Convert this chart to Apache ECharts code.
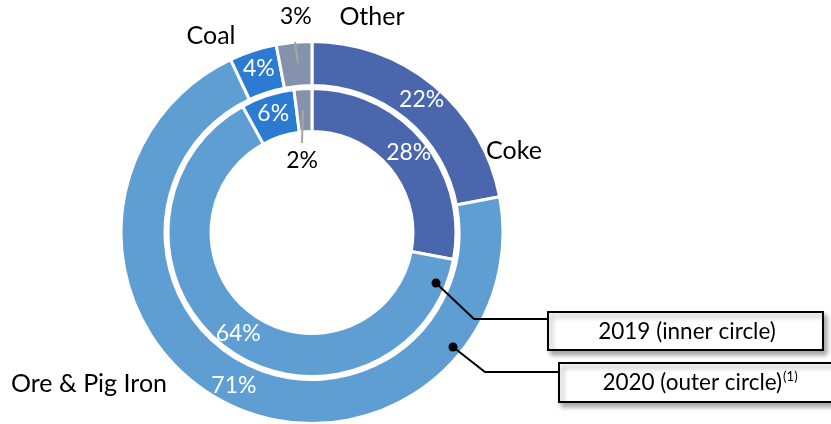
<!DOCTYPE html>
<html>
<head>
<meta charset="utf-8">
<script src="https://cdn.jsdelivr.net/npm/echarts@6/dist/echarts.min.js"></script>
<style>
  html, body { margin: 0; padding: 0; background: #fff; }
  #chart { width: 831px; height: 424px; }
</style>
</head>
<body>
<div id="chart"></div>
<script>
// Raw-material cost mix, 2019 (inner ring) vs 2020 (outer ring)
const categories = ['Coke', 'Ore & Pig Iron', 'Coal', 'Other'];
const share2019 = [28, 64, 6, 2];
const share2020 = [22, 71, 4, 3];
const colors = ['#4A66AC', '#5F9ED2', '#2B7BD3', '#8592AB'];
const ringNames = ['2019 (inner circle)', '2020 (outer circle)'];

const FONT = 'Lato';
const CX = 312, CY = 232.5;

function ringData(values, smallOffset) {
  return values.map((v, i) => {
    const item = { name: categories[i], value: v, itemStyle: { color: colors[i] } };
    if (i === 3) {
      item.label = { color: '#000', offset: smallOffset };
    }
    return item;
  });
}

const labelBase = {
  show: true,
  position: 'inside',
  formatter: '{c}%',
  color: '#fff',
  fontFamily: FONT,
  fontSize: 23
};

const catFont = '25px ' + FONT;
const catText = (i, x, y) => ({
  type: 'text', z: 10, x: x, y: y,
  style: { text: categories[i], font: catFont, fill: '#000', align: 'center', verticalAlign: 'middle' }
});

const chart = echarts.init(document.getElementById('chart'));
chart.setOption({
  animation: false,
  series: [
    {
      name: ringNames[1],
      type: 'pie',
      center: [CX, CY],
      radius: [147, 191],
      startAngle: 90,
      clockwise: true,
      silent: true,
      itemStyle: { borderColor: '#fff', borderWidth: 3 },
      label: labelBase,
      labelLine: { show: false },
      data: ringData(share2020, [0, -45])
    },
    {
      name: ringNames[0],
      type: 'pie',
      center: [CX, CY],
      radius: [101, 144],
      startAngle: 90,
      clockwise: true,
      silent: true,
      itemStyle: { borderColor: '#fff', borderWidth: 3 },
      label: labelBase,
      labelLine: { show: false },
      data: ringData(share2019, [-2, 53])
    }
  ],
  graphic: [
    // category names around the outer ring
    catText(0, 514, 151),
    catText(1, 89, 384),
    catText(2, 211, 36),
    catText(3, 372, 17),
    // leader lines for the thin "Other" slices
    { type: 'line', z: 10, shape: { x1: 295, y1: 42, x2: 298, y2: 63 }, style: { stroke: '#A6A6A6', lineWidth: 2 } },
    { type: 'line', z: 10, shape: { x1: 303, y1: 110, x2: 302, y2: 143 }, style: { stroke: '#A6A6A6', lineWidth: 2 } },
    // ring callouts
    { type: 'polyline', z: 10, shape: { points: [[436, 283], [474, 319], [548, 319]] }, style: { stroke: '#000', lineWidth: 2, fill: null } },
    { type: 'circle', z: 10, shape: { cx: 436, cy: 283, r: 4.5 }, style: { fill: '#000' } },
    { type: 'polyline', z: 10, shape: { points: [[453, 347], [485, 372], [559, 372]] }, style: { stroke: '#000', lineWidth: 2, fill: null } },
    { type: 'circle', z: 10, shape: { cx: 453, cy: 347, r: 4.5 }, style: { fill: '#000' } },
    {
      type: 'rect', z: 10, shape: { x: 548, y: 312, width: 275, height: 38 },
      style: { fill: '#fff', stroke: '#000', lineWidth: 2, shadowBlur: 5, shadowOffsetX: 3, shadowOffsetY: 4, shadowColor: 'rgba(0,0,0,0.35)' }
    },
    {
      type: 'rect', z: 10, shape: { x: 559, y: 363, width: 290, height: 39 },
      style: { fill: '#fff', stroke: '#000', lineWidth: 2, shadowBlur: 5, shadowOffsetX: 3, shadowOffsetY: 4, shadowColor: 'rgba(0,0,0,0.35)' }
    },
    { type: 'text', z: 11, x: 687, y: 332, style: { text: ringNames[0], font: '22.5px ' + FONT, fill: '#000', align: 'center', verticalAlign: 'middle' } },
    {
      type: 'text', z: 11, x: 700, y: 383,
      style: {
        text: '{m|' + ringNames[1] + '}{s|(1)}',
        align: 'center', verticalAlign: 'middle',
        rich: {
          m: { fontFamily: FONT, fontSize: 22.5, color: '#000' },
          s: { fontFamily: FONT, fontSize: 13, color: '#000', verticalAlign: 'top', padding: [0, 0, 12, 1] }
        }
      }
    }
  ]
});
</script>
</body>
</html>
